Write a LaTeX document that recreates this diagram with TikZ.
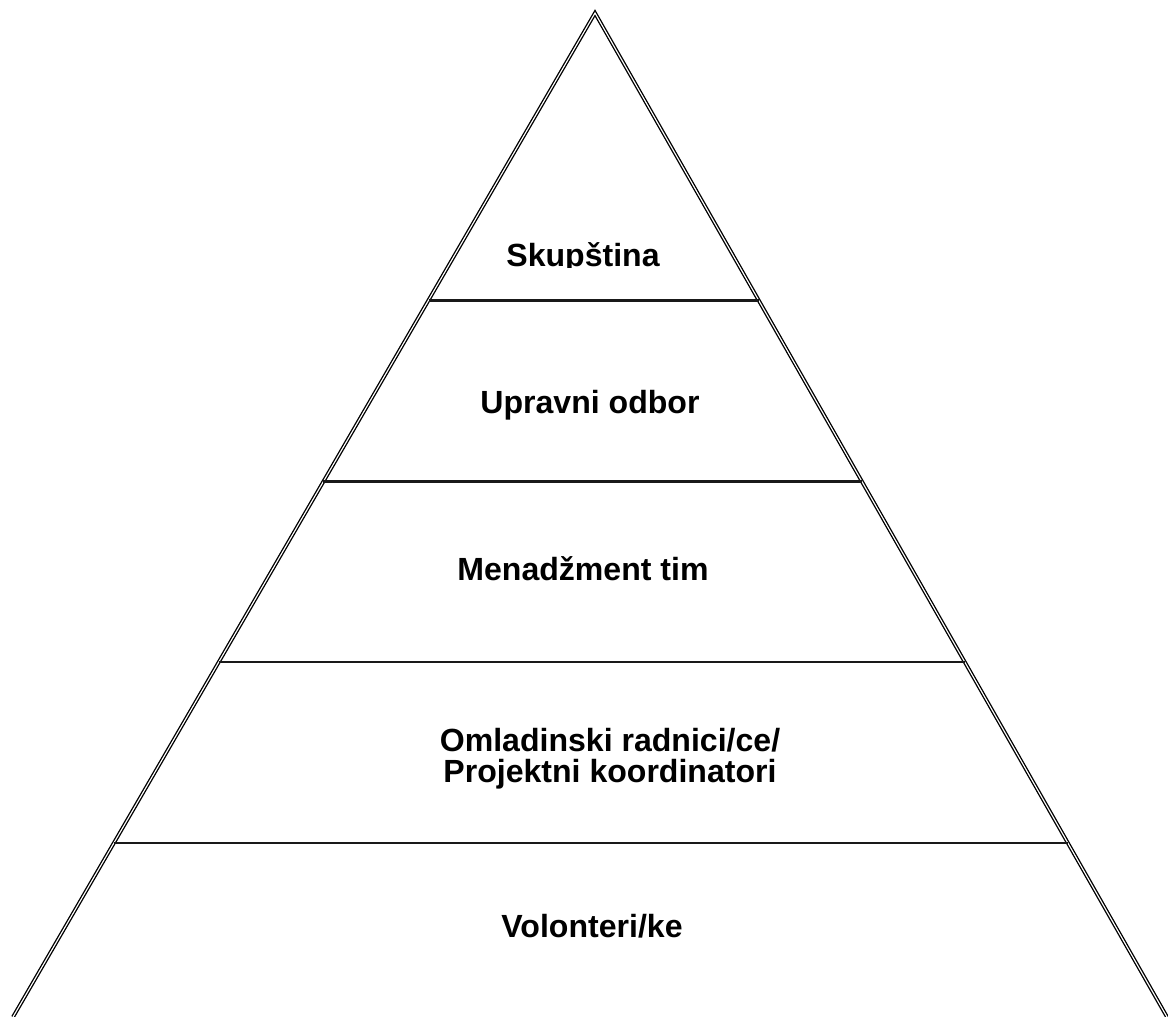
\documentclass[tikz,border=0pt]{standalone}
\usepackage{fontspec}
\setmainfont{Liberation Sans}
\usepackage{tikz}
\usetikzlibrary{calc}

\tikzset{
  side/.style={draw=black, double=white, line width=0.95pt, double distance=0.8pt},
  level/.style={line width=2.1pt, draw=black!90},
  lbl/.style={anchor=base, align=center, font=\bfseries\fontsize{22.8}{22}\selectfont}
}

\begin{document}
\begin{tikzpicture}[x=0.025cm, y=-0.025cm]
                    \useasboundingbox (0,0) rectangle (1168,1017);
                    \coordinate (top) at (595,13);
                    \coordinate (L) at (13,1017);
                    \coordinate (R) at (1167,1017);

                    \draw[side] (L)-- (top)-- (R);
                    \draw[level] ($(top)!0.2859!(L)$)-- ($(top)!0.2859!(R)$);
                    \draw[level] ($(top)!0.4671!(L)$)-- ($(top)!0.4671!(R)$);
                    \draw[level] ($(top)!0.6464!(L)$)-- ($(top)!0.6464!(R)$);
                    \draw[level, line width=1.3pt] ($(top)!0.8267!(L)$)-- ($(top)!0.8267!(R)$);

                    \begin{scope}
                    \clip (0,0) rectangle (1168,267);
                    \node[lbl] (skup) at (583,266) {Skupština};
                    \end{scope}
                    \node[lbl] (uo) at (590,413) {Upravni odbor};
                    \node[lbl] (mt) at (583,580) {Menadžment tim};
                    \node[lbl] (or) at (610,782) {Omladinski radnici/ce/\\Projektni koordinatori};
                    \node[lbl] (vol) at (592,937) {Volonteri/ke};
                    % \node[lbl] at (595,1000) {};
                \end{tikzpicture}
\end{document}
